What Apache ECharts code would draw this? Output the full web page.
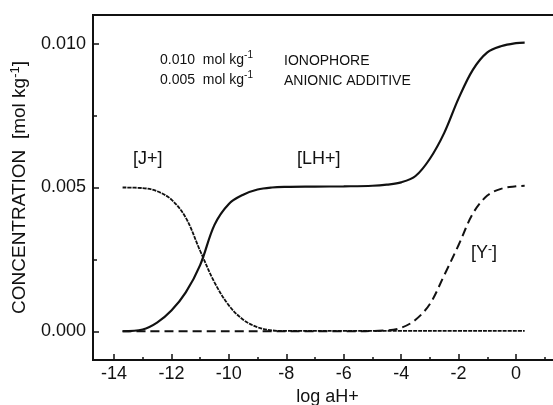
<!DOCTYPE html>
<html>
<head>
<meta charset="utf-8">
<script src="https://cdn.jsdelivr.net/npm/echarts@6/dist/echarts.min.js"></script>
<style>
html,body{margin:0;padding:0;background:#fff;}
#chart{width:553px;height:405px;}
</style>
</head>
<body>
<div id="chart"></div>
<script>
// ---- data ----
const xLH = [-13.7, -13.0, -12.5, -12.0, -11.5, -11.0, -10.5, -10.0, -9.5, -9.0, -8.5, -8.0, -7.0, -6.0, -5.0, -4.5, -4.0, -3.5, -3.0, -2.5, -2.0, -1.5, -1.0, -0.5, 0.0, 0.3];
const yLH = [0.00000, 0.00006, 0.00030, 0.00072, 0.00135, 0.00230, 0.00370, 0.00443, 0.00475, 0.00493, 0.00500, 0.00502, 0.00503, 0.00504, 0.00506, 0.00510, 0.00518, 0.00540, 0.00600, 0.00690, 0.00810, 0.00910, 0.00970, 0.00992, 0.01002, 0.01004];

const xJ = [-13.7, -13.0, -12.5, -12.0, -11.5, -11.0, -10.5, -10.0, -9.5, -9.0, -8.5, -8.0, -6.0, -4.0, -2.0, 0.0, 0.3];
const yJ = [0.00500, 0.00498, 0.00487, 0.00458, 0.00395, 0.00280, 0.00170, 0.00090, 0.00040, 0.00014, 0.00003, 0.00001, 0.00001, 0.00001, 0.00001, 0.00001, 0.00001];

const xY = [-13.7, -10.0, -6.0, -4.5, -4.0, -3.5, -3.0, -2.5, -2.0, -1.5, -1.0, -0.5, 0.0, 0.3];
const yY = [0.00000, 0.00000, 0.00000, 0.00003, 0.00012, 0.00040, 0.00095, 0.00195, 0.00300, 0.00410, 0.00472, 0.00496, 0.00504, 0.00506];

const xMajorTicks = [-14, -12, -10, -8, -6, -4, -2, 0];
const xMinorTicks = [-13, -11, -9, -7, -5, -3, -1, 1];
const yMajorTicks = [0, 0.005, 0.010];
const yMinorTicks = [0.0025, 0.0075];

const toPairs = (xs, ys) => xs.map((x, i) => [x, ys[i]]);

const INK = '#111';
const FONT = 'Liberation Sans, Arial, sans-serif';

const chart = echarts.init(document.getElementById('chart'), null, {renderer: 'canvas'});

const xBase = {
  type: 'value', min: -14.73, max: 1.6, position: 'bottom',
  splitLine: {show: false}
};
const yBase = {
  type: 'value', min: -0.001, max: 0.011, position: 'left',
  splitLine: {show: false}
};

chart.setOption({
  backgroundColor: '#fff',
  animation: false,
  grid: {left: 93, top: 15, right: -9, bottom: 45, show: true, borderColor: INK, borderWidth: 2,
    backgroundColor: 'transparent', containLabel: false, outerBoundsMode: 'none'},
  xAxis: [
    Object.assign({}, xBase, {
      name: 'log aH+', nameLocation: 'middle', nameGap: 27,
      nameTextStyle: {fontFamily: FONT, fontSize: 18, color: INK},
      axisLine: {show: true, onZero: false, lineStyle: {color: INK, width: 2}},
      axisTick: {show: true, inside: true, length: 6, customValues: xMajorTicks, lineStyle: {color: INK, width: 1.5}},
      axisLabel: {show: true, customValues: xMajorTicks, fontFamily: FONT, fontSize: 18, color: INK, margin: 5,
        formatter: v => String(Math.round(v))}
    }),
    Object.assign({}, xBase, {
      axisLine: {show: false, onZero: false},
      axisTick: {show: true, inside: true, length: 3, customValues: xMinorTicks, lineStyle: {color: INK, width: 1.5}},
      axisLabel: {show: false}
    })
  ],
  yAxis: [
    Object.assign({}, yBase, {
      name: 'CONCENTRATION  [mol kg{sup|-1}]', nameLocation: 'middle', nameGap: 63, nameRotate: 90,
      nameTextStyle: {fontFamily: FONT, fontSize: 19, color: INK,
        rich: {sup: {fontFamily: FONT, fontSize: 13, color: INK, verticalAlign: 'top', padding: [0, 0, 8, 0]}}},
      axisLine: {show: true, onZero: false, lineStyle: {color: INK, width: 2}},
      axisTick: {show: true, inside: true, length: 6, customValues: yMajorTicks, lineStyle: {color: INK, width: 1.5}},
      axisLabel: {show: true, customValues: yMajorTicks, fontFamily: FONT, fontSize: 18, color: INK, margin: 7,
        formatter: v => v.toFixed(3)}
    }),
    Object.assign({}, yBase, {
      axisLine: {show: false, onZero: false},
      axisTick: {show: true, inside: true, length: 4, customValues: yMinorTicks, lineStyle: {color: INK, width: 1.5}},
      axisLabel: {show: false}
    })
  ],
  series: [
    {
      name: '[LH+]', type: 'line', xAxisIndex: 0, yAxisIndex: 0,
      data: toPairs(xLH, yLH), showSymbol: false, symbol: 'none',
      smooth: 0.35,
      lineStyle: {color: INK, width: 2.2, type: 'solid'}
    },
    {
      name: '[J+]', type: 'line', xAxisIndex: 0, yAxisIndex: 0,
      data: toPairs(xJ, yJ), showSymbol: false, symbol: 'none',
      smooth: 0.35,
      lineStyle: {color: INK, width: 1.8, type: [4, 1]}
    },
    {
      name: '[Y-]', type: 'line', xAxisIndex: 0, yAxisIndex: 0,
      data: toPairs(xY, yY), showSymbol: false, symbol: 'none',
      smooth: 0.35,
      lineStyle: {color: INK, width: 2, type: [9, 5]}
    }
  ],
  graphic: [
    {type: 'text', left: 160, top: 50, style: {
      text: '0.010  mol kg{sup|-1}\n0.005  mol kg{sup|-1}', font: '14px ' + FONT, fill: INK, lineHeight: 20,
      rich: {sup: {fontSize: 10, fill: INK, verticalAlign: 'top', padding: [0, 0, 6, 0]}}}},
    {type: 'text', left: 284, top: 51, style: {
      text: 'IONOPHORE\nANIONIC ADDITIVE', font: '14px ' + FONT, fill: INK, lineHeight: 20}},
    {type: 'text', left: 133, top: 150, style: {text: '[J+]', font: '18px ' + FONT, fill: INK}},
    {type: 'text', left: 297, top: 150, style: {text: '[LH+]', font: '18px ' + FONT, fill: INK}},
    {type: 'text', left: 471, top: 244, style: {
      text: '[Y{sup|-}]', font: '18px ' + FONT, fill: INK,
      rich: {sup: {fontSize: 12, fill: INK, verticalAlign: 'top', padding: [0, 0, 6, 0]}}}}
  ]
});
</script>
</body>
</html>
